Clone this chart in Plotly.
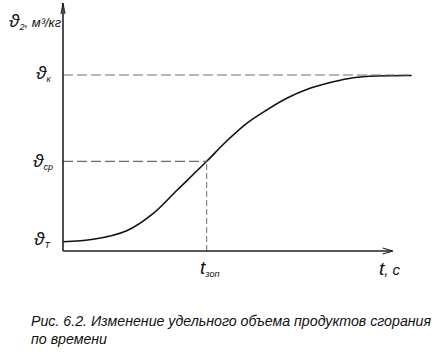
import plotly.graph_objects as go

# ---- data (abstract units) ----
t_values = [0, 3.03, 6.37, 9.03, 11.37, 14.37, 16.37, 18.37, 20.37, 22.37, 24.7, 27.03, 29.03, 31.37, 34.87]
v_values = [0.93, 1.17, 2.03, 3.77, 6.05, 8.97, 11.0, 12.77, 14.1, 15.27, 16.27, 16.93, 17.33, 17.5, 17.55]
v_T = 0.93
v_cp = 8.97
v_k = 17.6
t_zop = 14.37
t_axis_end = 32.97
v_axis_end = 24.8

BIG = "<span style='font-size:19px'>{}</span>"
label_y_axis = BIG.format("ϑ") + "<sub>2</sub>, м³/кг"
label_x_axis = BIG.format("t") + "<span style='font-size:15px'>, с</span>"
label_vk = BIG.format("ϑ") + "<sub>к</sub>"
label_vcp = BIG.format("ϑ") + "<sub>ср</sub>"
label_vT = BIG.format("ϑ") + "<sub>Т</sub>"
label_tzop = BIG.format("t") + "<sub>зоп</sub>"
caption = "Рис. 6.2. Изменение удельного объема продуктов сгорания<br>по времени"

FONT = "Liberation Sans Narrow, Liberation Sans, DejaVu Sans"
AX = "#222222"
DASH = "#6e6e6e"

fig = go.Figure()
fig.add_trace(go.Scatter(
    x=t_values, y=v_values, mode="lines",
    line=dict(color="#111111", width=1.6, shape="spline", smoothing=1.0),
    hoverinfo="skip", showlegend=False,
))

shapes = []
shapes.append(dict(type="line", x0=0, x1=t_values[-1], y0=v_k, y1=v_k,
                   line=dict(color=DASH, width=1.2, dash="10px,4px")))
shapes.append(dict(type="line", x0=0, x1=t_zop, y0=v_cp, y1=v_cp,
                   line=dict(color=DASH, width=1.2, dash="10px,4px")))
shapes.append(dict(type="line", x0=t_zop, x1=t_zop, y0=0, y1=v_cp,
                   line=dict(color=DASH, width=1.0, dash="6px,3px")))
shapes.append(dict(type="line", x0=0, x1=t_axis_end, y0=0, y1=0,
                   line=dict(color=AX, width=1.6)))
shapes.append(dict(type="line", x0=0, x1=0, y0=0, y1=v_axis_end,
                   line=dict(color=AX, width=1.6)))
for s in (1, -1):
    shapes.append(dict(type="line", x0=t_axis_end - 1.0, y0=0.3 * s, x1=t_axis_end, y1=0,
                       line=dict(color=AX, width=1.1)))
    shapes.append(dict(type="line", x0=0.2 * s, y0=v_axis_end - 1.1, x1=0, y1=v_axis_end,
                       line=dict(color=AX, width=1.1)))
fig.update_layout(shapes=shapes)

ann_font = dict(family=FONT, size=13, color="#111111")
annotations = [
    dict(x=-5.6, y=23.0, text=label_y_axis, xanchor="left", yanchor="middle", font=dict(ann_font)),
    dict(x=-1.0, y=v_k + 0.2, text=label_vk, xanchor="right", yanchor="middle", font=dict(ann_font)),
    dict(x=-0.8, y=v_cp + 0.0, text=label_vcp, xanchor="right", yanchor="middle", font=dict(ann_font)),
    dict(x=-1.0, y=v_T + 0.3, text=label_vT, xanchor="right", yanchor="middle", font=dict(ann_font)),
    dict(x=t_zop + 0.3, y=-0.4, text=label_tzop, xanchor="center", yanchor="top", font=dict(ann_font)),
    dict(x=31.4, y=-0.5, text=label_x_axis, xanchor="left", yanchor="top", font=dict(ann_font)),
    dict(x=-3.4, y=-6.0, text=caption, xanchor="left", yanchor="top",
         align="left", font=dict(family=FONT, size=14.2, color="#111111")),
]
for a in annotations:
    a["xref"] = "x"
    a["yref"] = "y"
    a["showarrow"] = False
    a["font"]["style"] = "italic"
fig.update_layout(annotations=annotations)

fig.update_layout(
    width=444, height=357,
    margin=dict(l=0, r=0, t=0, b=0, pad=0),
    paper_bgcolor="white", plot_bgcolor="white",
    xaxis=dict(range=[-6.3, 38.1], visible=False, fixedrange=True),
    yaxis=dict(range=[-10.6, 25.1], visible=False, fixedrange=True),
    showlegend=False,
)

fig.write_html("out.html", config={"displayModeBar": False},
               post_script="document.body.style.margin='0px';")
